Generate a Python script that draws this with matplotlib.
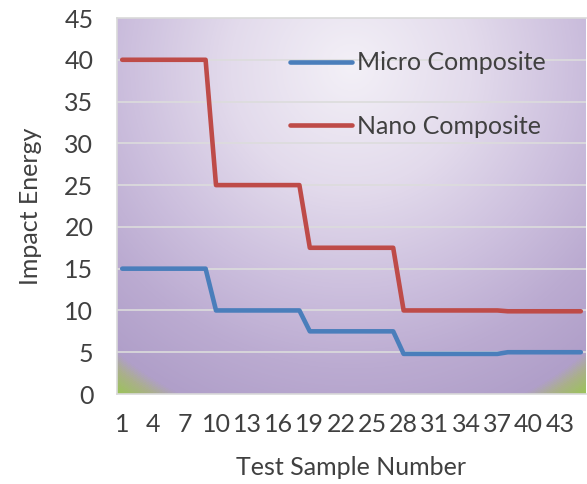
import numpy as np
import matplotlib.pyplot as plt
from matplotlib.colors import LinearSegmentedColormap

# test samples 1..45
samples = list(range(1, 46))
micro = [15.0] * 9 + [10.0] * 9 + [7.5] * 9 + [4.8] * 10 + [5.0] * 8
nano = [40.0] * 9 + [25.0] * 9 + [17.5] * 9 + [10.0] * 10 + [9.9] * 8
tick_labels = [str(s) for s in range(1, 46, 3)]

plt.rcParams['font.family'] = ['Lato', 'DejaVu Sans']
text_color = '#404040'
fs = 18

fig = plt.figure(figsize=(5.87, 4.84), dpi=100)
ax = fig.add_axes([117 / 587, 1 - 394 / 484, 469 / 587, 376 / 484])

# radial gradient background of the plot area (pixel distances)
w, h = 469, 376
xx, yy = np.meshgrid(np.linspace(0, w, w), np.linspace(0, h, h))
cx, cy = 0.5 * w, 0.87 * h
r = np.hypot(xx - cx, yy - cy)
r = r / np.hypot(cx, cy)
grad = LinearSegmentedColormap.from_list('bg', [
    (0.0, '#f3f0f7'), (0.3, '#e3dbec'), (0.55, '#cdc0de'),
    (0.75, '#bbabd1'), (0.92, '#b09fc9'), (0.955, '#aab08a'), (1.0, '#9cc35a')])
ax.imshow(np.clip(r, 0, 1), cmap=grad, vmin=0, vmax=1, origin='lower',
          extent=[0.5, 45.5, 0, 45], aspect='auto', zorder=0,
          interpolation='bilinear')

for y in range(5, 45, 5):
    ax.axhline(y, color='#dcdcdc', lw=1.2, zorder=1)

ax.plot(samples, micro, color='#4a7ebb', lw=3.3, label='Micro Composite',
        solid_joinstyle='round', solid_capstyle='round', zorder=3)
ax.plot(samples, nano, color='#be4b48', lw=3.3, label='Nano Composite',
        solid_joinstyle='round', solid_capstyle='round', zorder=3)

ax.set_xlim(0.5, 45.5)
ax.set_ylim(0, 45)
ax.set_yticks(range(0, 50, 5))
ax.set_xticks(range(1, 46, 3))
ax.set_xticklabels(tick_labels)
ax.tick_params(axis='both', length=0, labelsize=fs, colors=text_color)
ax.tick_params(axis='y', pad=17)
ax.tick_params(axis='x', pad=14)

for side in ['left', 'bottom', 'top']:
    ax.spines[side].set_color('#d9d9d9')
    ax.spines[side].set_linewidth(1.2)
ax.spines['right'].set_visible(False)

ax.set_xlabel('Test Sample Number', fontsize=fs, color=text_color, labelpad=14)
ax.set_ylabel('Impact Energy', fontsize=fs, color=text_color, labelpad=16)

leg = ax.legend(loc='upper left', bbox_to_anchor=(267 / 587, 1 - 29 / 484),
                bbox_transform=fig.transFigure, frameon=False, fontsize=fs,
                handlelength=2.5, handletextpad=0.2, labelspacing=1.6)
for t in leg.get_texts():
    t.set_color(text_color)

fig.savefig('out.png', dpi=100)
